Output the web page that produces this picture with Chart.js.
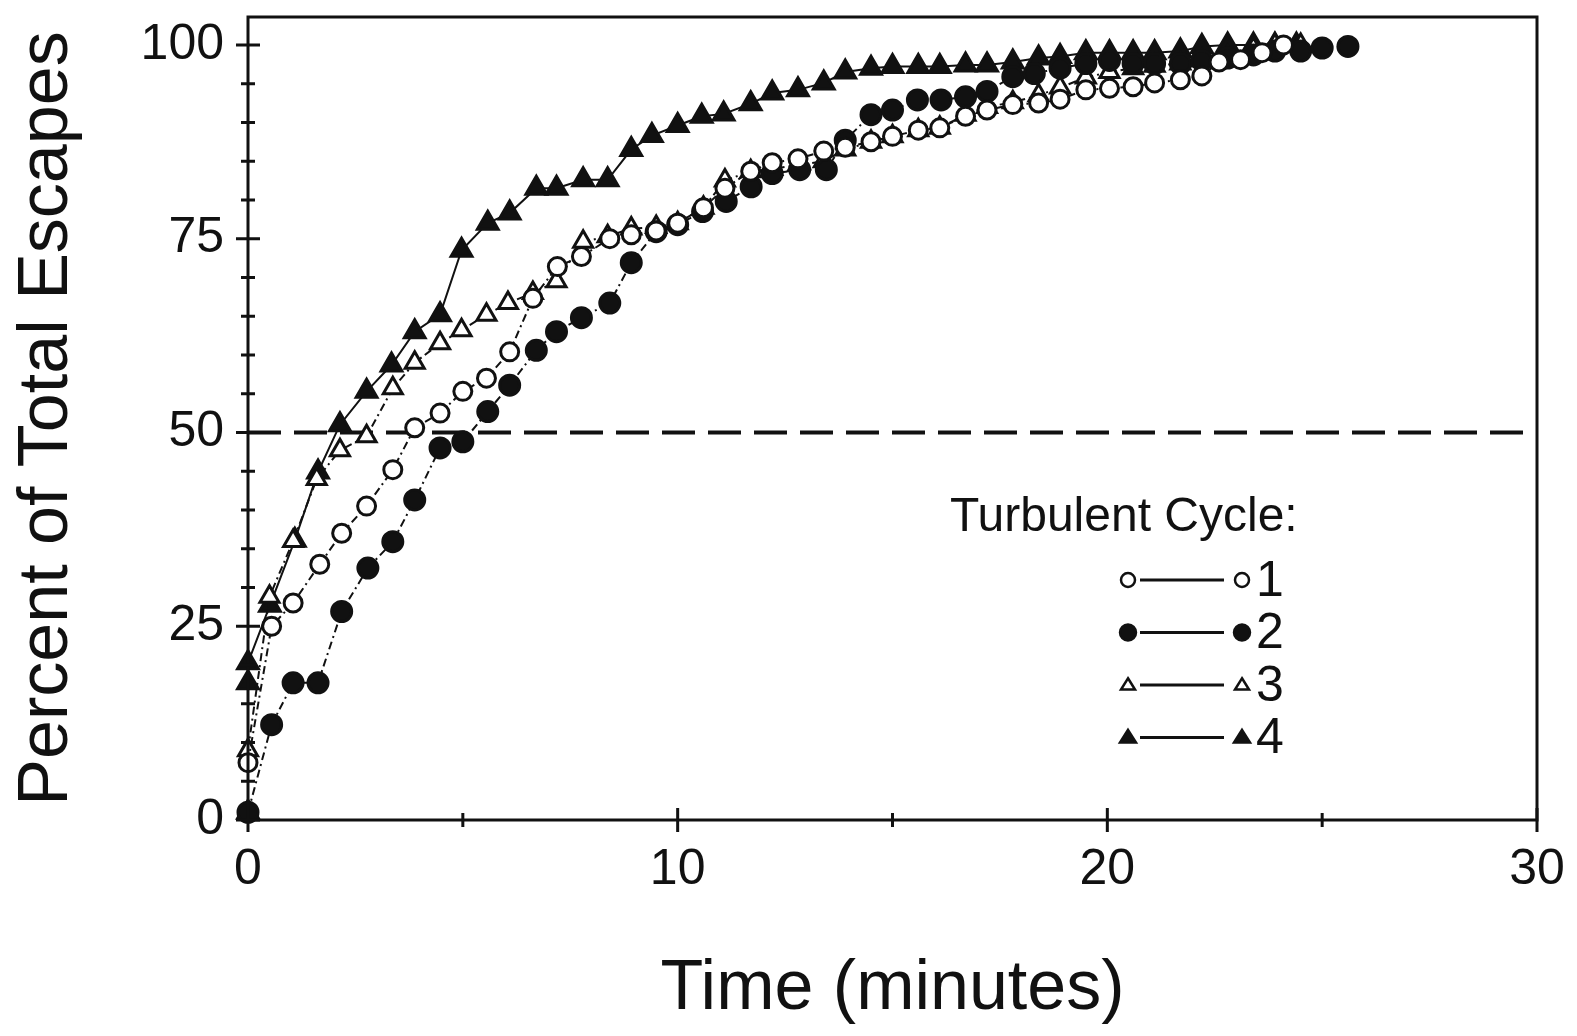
<!DOCTYPE html>
<html>
<head>
<meta charset="utf-8">
<script src="https://cdn.jsdelivr.net/npm/chart.js@4.4.1/dist/chart.umd.min.js"></script>
<style>
  html, body { margin: 0; padding: 0; background: #fff; }
  .wrap { width: 1577px; height: 1036px; }
</style>
</head>
<body>
<div class="wrap"><canvas class="chr"></canvas></div>
<script>
// data (time in minutes, percent of total escapes)
const t1 = [0, 0.55, 1.05, 1.67, 2.18, 2.76, 3.37, 3.88, 4.47, 5.0, 5.55, 6.09, 6.63, 7.2, 7.76, 8.42, 8.92, 9.5, 10.0, 10.6, 11.1, 11.7, 12.2, 12.8, 13.4, 13.9, 14.5, 15.0, 15.6, 16.1, 16.7, 17.2, 17.8, 18.4, 18.9, 19.5, 20.05, 20.6, 21.1, 21.7, 22.2, 22.6, 23.1, 23.6, 24.1];
const cycle1 = [7.4, 25, 28, 33, 37, 40.5, 45.2, 50.6, 52.5, 55.3, 57, 60.4, 67.3, 71.4, 72.7, 75, 75.5, 76, 77, 79, 81.5, 83.7, 84.8, 85.3, 86.3, 86.8, 87.5, 88.2, 89, 89.3, 90.8, 91.6, 92.3, 92.5, 93, 94.2, 94.4, 94.6, 95.1, 95.5, 96, 97.8, 98.1, 99, 100];

const t2 = [0, 0.55, 1.05, 1.63, 2.18, 2.79, 3.37, 3.88, 4.47, 5.0, 5.58, 6.09, 6.71, 7.18, 7.76, 8.42, 8.92, 9.5, 10.0, 10.58, 11.13, 11.71, 12.2, 12.84, 13.46, 13.9, 14.5, 15.0, 15.58, 16.13, 16.7, 17.2, 17.8, 18.3, 18.9, 19.5, 20.05, 20.6, 21.1, 21.7, 22.2, 22.8, 23.4, 23.9, 24.5, 25.0, 25.6];
const cycle2 = [1, 12.3, 17.7, 17.7, 26.9, 32.5, 35.9, 41.3, 48, 48.8, 52.7, 56.1, 60.6, 63, 64.8, 66.7, 71.9, 75.9, 76.8, 78.5, 79.8, 81.7, 83.4, 83.9, 83.9, 87.7, 91, 91.6, 92.9, 92.9, 93.3, 94, 95.9, 96.3, 97, 97.6, 98, 97.6, 97.6, 97.6, 98, 98.3, 98.7, 99.2, 99.2, 99.6, 99.8];

const t3 = [0, 0.5, 1.05, 1.6, 2.14, 2.76, 3.37, 3.88, 4.47, 4.97, 5.55, 6.05, 6.63, 7.18, 7.8, 8.37, 8.92, 9.5, 10.0, 10.6, 11.1, 11.7, 12.2, 12.8, 13.4, 13.9, 14.5, 15.0, 15.6, 16.1, 16.7, 17.2, 17.8, 18.4, 18.9, 19.5, 20.05, 20.6, 21.1, 21.7, 22.2, 22.8, 23.4, 23.9, 24.5];
const cycle3 = [9, 28.8, 36, 44, 47.7, 49.5, 55.7, 59, 61.5, 63.2, 65.2, 66.7, 68, 69.5, 74.6, 75.3, 76.3, 76.5, 77, 79, 82.5, 83.7, 84, 84.5, 85, 86.5, 87.5, 88.2, 89, 89.3, 91, 92, 92.6, 93.5, 94.5, 95.8, 96.5, 97, 97.3, 97.6, 98, 98.5, 99.5, 100, 100];

const t4 = [0, 0, 0, 0.51, 1.09, 1.63, 2.14, 2.76, 3.34, 3.88, 4.47, 4.97, 5.58, 6.09, 6.71, 7.18, 7.8, 8.37, 8.92, 9.4, 10.0, 10.56, 11.07, 11.7, 12.2, 12.8, 13.4, 13.9, 14.5, 15.0, 15.6, 16.1, 16.7, 17.2, 17.8, 18.4, 18.9, 19.5, 20.05, 20.6, 21.1, 21.7, 22.2, 22.8, 23.4, 23.9, 24.4];
const cycle4 = [1, 17.7, 20.3, 27.7, 36.1, 44.9, 51, 55.3, 58.7, 63, 65.2, 73.5, 77, 78.3, 81.5, 81.5, 82.6, 82.6, 86.5, 88.3, 89.6, 90.8, 91.1, 92.4, 93.8, 94.2, 95.1, 96.5, 97, 97.2, 97.2, 97.2, 97.4, 97.4, 97.8, 98.3, 98.5, 99, 99, 99, 99, 99.2, 99.8, 100, 100, 100, 100];

const halfLine = [50, 50];
const halfTimes = [0, 30];

const xTicks = [0, 5, 10, 15, 20, 25, 30];
const xLabels = [0, 10, 20, 30];
const yTicks = [0, 5, 10, 15, 20, 25, 30, 35, 40, 45, 50, 55, 60, 65, 70, 75, 80, 85, 90, 95, 100];
const yLabels = [0, 25, 50, 75, 100];
const seriesNames = ['1', '2', '3', '4'];
const legendTitle = 'Turbulent Cycle:';

const FONT = '"Liberation Sans", Arial, sans-serif';
const INK = '#111';

function pts(xs, ys) {
  return xs.map((x, i) => ({ x: x, y: ys[i] }));
}

function series(label, xs, ys, style, filled, r, dash) {
  return {
    label: label,
    data: pts(xs, ys),
    showLine: true,
    borderColor: INK,
    borderWidth: 2,
    borderDash: dash,
    pointStyle: style,
    pointRadius: r,
    pointHoverRadius: r,
    pointBorderWidth: 3,
    pointBorderColor: INK,
    pointBackgroundColor: filled ? INK : '#fff',
    clip: false
  };
}

// draws a small marker like the ones on the chart (legend only)
function marker(ctx, style, filled, x, y, r) {
  ctx.beginPath();
  if (style === 'circle') {
    ctx.arc(x, y, r, 0, Math.PI * 2);
  } else {
    const h = r * 1.6;
    ctx.moveTo(x, y - h * 0.6);
    ctx.lineTo(x + r, y + h * 0.4);
    ctx.lineTo(x - r, y + h * 0.4);
    ctx.closePath();
  }
  ctx.fillStyle = filled ? INK : '#fff';
  ctx.fill();
  ctx.lineWidth = 2.5;
  ctx.strokeStyle = INK;
  ctx.stroke();
}

// frame + ticks crossing the axes
const frame = {
  id: 'frame',
  afterDatasetsDraw(chart) {
    const { ctx, chartArea: a, scales: { x, y } } = chart;
    ctx.save();
    ctx.strokeStyle = INK;
    ctx.lineWidth = 3;
    ctx.strokeRect(a.left, a.top, a.right - a.left, a.bottom - a.top);
    ctx.beginPath();
    yTicks.forEach(v => {
      const py = y.getPixelForValue(v);
      const len = yLabels.includes(v) ? 12 : 7;
      ctx.moveTo(a.left - len, py);
      ctx.lineTo(a.left + len, py);
    });
    xTicks.forEach(v => {
      const px = x.getPixelForValue(v);
      const len = xLabels.includes(v) ? 12 : 7;
      ctx.moveTo(px, a.bottom - len);
      ctx.lineTo(px, a.bottom + len);
    });
    ctx.stroke();
    ctx.restore();
  }
};

const cycleLegend = {
  id: 'cycleLegend',
  afterDraw(chart) {
    const ctx = chart.ctx;
    ctx.save();
    ctx.fillStyle = INK;
    ctx.textBaseline = 'middle';
    ctx.textAlign = 'left';
    ctx.font = '48px ' + FONT;
    ctx.fillText(legendTitle, 950, 518);
    chart.data.datasets.slice(0, 4).forEach((ds, i) => {
      const yy = 580 + i * 52.5;
      const filled = ds.pointBackgroundColor === INK;
      ctx.beginPath();
      ctx.moveTo(1140, yy);
      ctx.lineTo(1224, yy);
      ctx.lineWidth = 3;
      ctx.strokeStyle = INK;
      ctx.stroke();
      const r = filled ? 8 : 7;
      marker(ctx, ds.pointStyle, filled, 1128, yy, r);
      marker(ctx, ds.pointStyle, filled, 1242, yy, r);
      ctx.fillStyle = INK;
      ctx.font = '50px ' + FONT;
      ctx.fillText(ds.label, 1256, yy + 2);
    });
    ctx.restore();
  }
};

const ctx = document.querySelector('.chr');
new Chart(ctx, {
  type: 'scatter',
  data: {
    datasets: [
      series(seriesNames[0], t1, cycle1, 'circle', false, 9, [8, 4, 2, 4]),
      series(seriesNames[1], t2, cycle2, 'circle', true, 10, [8, 4, 2, 4]),
      series(seriesNames[2], t3, cycle3, 'triangle', false, 11, [8, 4, 2, 4]),
      series(seriesNames[3], t4, cycle4, 'triangle', true, 12, []),
      {
        label: 'half',
        data: pts(halfTimes, halfLine),
        showLine: true,
        borderColor: INK,
        borderWidth: 4,
        borderDash: [33, 13],
        pointRadius: 0,
        pointHoverRadius: 0
      }
    ]
  },
  options: {
    responsive: true,
    maintainAspectRatio: false,
    animation: false,
    events: [],
    layout: { padding: { top: 17, right: 40, left: 0, bottom: 0 } },
    scales: {
      x: {
        type: 'linear',
        min: 0,
        max: 30,
        afterFit: s => { s.height = 216; s.paddingLeft = 0; s.paddingRight = 0; },
        afterBuildTicks: s => { s.ticks = xLabels.map(v => ({ value: v })); },
        border: { display: false },
        grid: { display: false, drawTicks: false },
        ticks: { color: INK, padding: 20, maxRotation: 0, font: { family: FONT, size: 50 } },
        title: {
          display: true,
          text: 'Time (minutes)',
          color: INK,
          padding: { top: 0, bottom: 4 },
          font: { family: FONT, size: 70 }
        }
      },
      y: {
        type: 'linear',
        min: 0,
        max: 103.6,
        afterFit: s => { s.width = 248; s.paddingTop = 0; s.paddingBottom = 0; },
        afterBuildTicks: s => { s.ticks = yLabels.map(v => ({ value: v })); },
        border: { display: false },
        grid: { display: false, drawTicks: false },
        ticks: { color: INK, padding: 24, font: { family: FONT, size: 50 } },
        title: {
          display: true,
          text: 'Percent of Total Escapes',
          color: INK,
          padding: { top: 6, bottom: 0 },
          font: { family: FONT, size: 70 }
        }
      }
    },
    plugins: {
      legend: { display: false },
      tooltip: { enabled: false }
    }
  },
  plugins: [frame, cycleLegend]
});
</script>
</body>
</html>
